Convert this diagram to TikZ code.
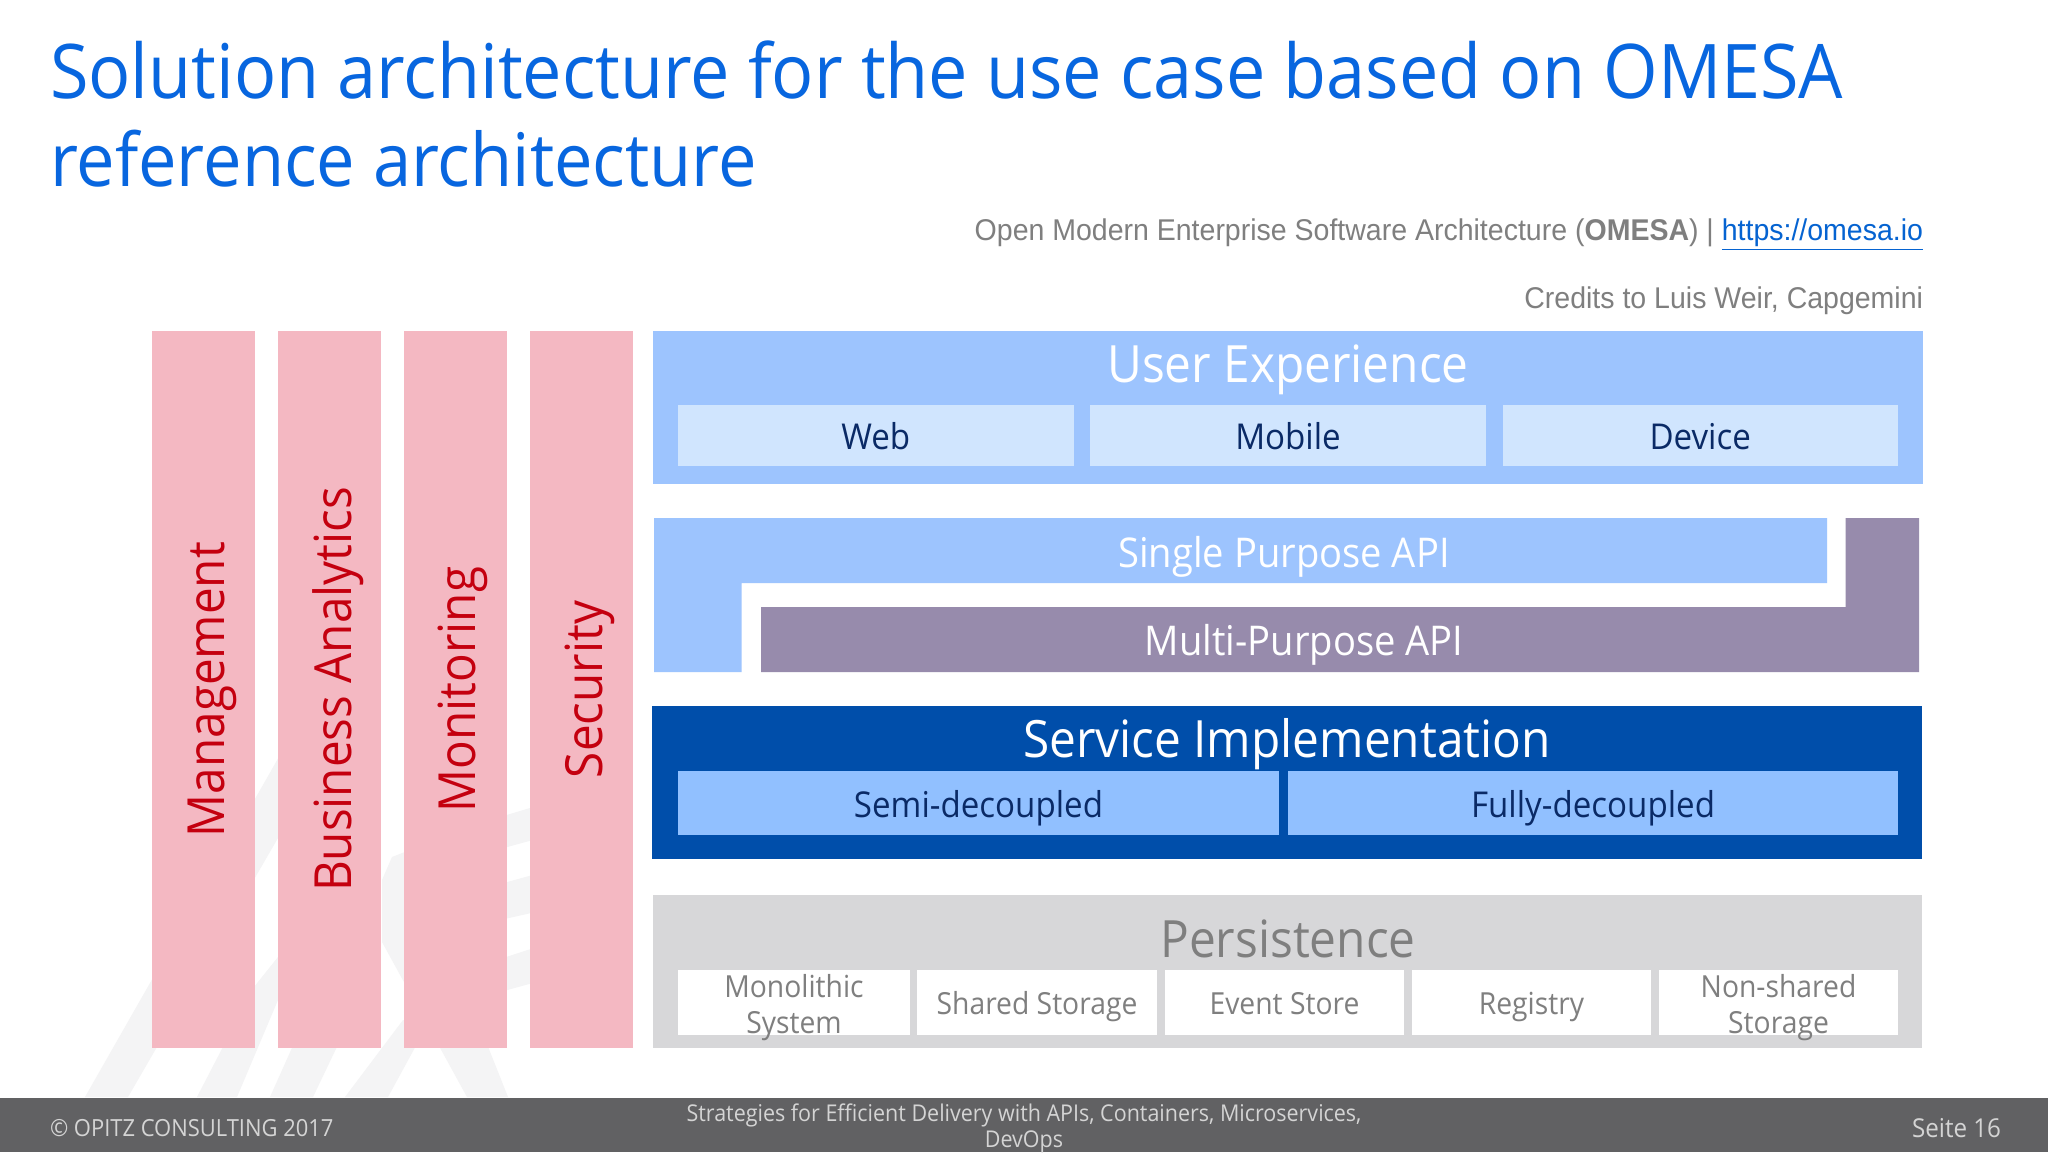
\documentclass[tikz,border=0pt]{standalone}
\usepackage{fontspec}
\setmainfont{Open Sans}
\newfontfamily\seg[FakeStretch=0.93]{Open Sans}
\newfontfamily\ari[FakeStretch=0.95]{Liberation Sans}
\definecolor{titleblue}{HTML}{0866DF}
\definecolor{linkblue}{HTML}{0563D1}
\definecolor{pinkbar}{HTML}{F4B8C2}
\definecolor{redtext}{HTML}{C4000F}
\definecolor{uxblue}{HTML}{9DC4FE}
\definecolor{uxinner}{HTML}{D0E5FE}
\definecolor{darktext}{HTML}{0A2A66}
\definecolor{purplebar}{HTML}{978BAC}
\definecolor{svcblue}{HTML}{004EAA}
\definecolor{semiblue}{HTML}{91C0FF}
\definecolor{persgray}{HTML}{D7D7D9}
\definecolor{grayt}{HTML}{7F7F7F}
\definecolor{footgray}{HTML}{616163}
\definecolor{foottext}{HTML}{D4D4D4}
\definecolor{wmark}{HTML}{F4F4F5}
\newcommand{\fsz}[1]{\fontsize{#1}{#1}\selectfont}
\tikzset{
  plain/.style={inner sep=0pt,outer sep=0pt},
  bar/.style={plain,fill=pinkbar},
  barlabel/.style={plain,rotate=90,text=redtext,font=\seg\fsz{25.6}},
  titleline/.style={plain,anchor=base west,text=titleblue,font=\seg\fsz{37.7}},
  subtitle/.style={plain,anchor=base east,text=grayt,font=\ari\fsz{15}},
  head/.style={plain,anchor=base,font=\seg\fsz{25.7}},
  mid/.style={plain,anchor=base,text=white,font=\seg\fsz{20.5}},
  lab/.style={plain,font=\seg\fsz{17.8},text height=14.4pt,text depth=0pt},
  persbox/.style={plain,fill=white},
  perstext/.style={plain,text=grayt,font=\seg\fontsize{15.2}{18.3}\selectfont,align=center},
  persone/.style={persbox,perstext,text height=11.8pt,text depth=0pt},
  foot/.style={plain,text=foottext,font=\seg\fsz{11.55}},
}
% \boxn{name}{x0}{y0}{x1}{y1}{style}{text}
\newcommand{\boxn}[7]{%
  \pgfmathsetmacro{\bw}{(#4-#2)*0.5}\pgfmathsetmacro{\bh}{(#5-#3)*0.5}%
  \node[#6,minimum width=\bw pt,minimum height=\bh pt] (#1) at ({(#2+#4)/2},{(#3+#5)/2}) {#7};}
\begin{document}
\begin{tikzpicture}[x=0.5pt,y=-0.5pt]
\useasboundingbox (0,0) rectangle (2048,1152);
\fill[white] (0,0) rectangle (2048,1152);
% watermark
\fill[wmark] (85,1097) -- (128,1097) -- (300,800) -- (300,720) -- cycle;
\fill[wmark] (197,1097) -- (254,987) -- (278,957) -- (278,1000) -- (237,1097) -- cycle;
\fill[wmark] (270,1097) -- (313,1097) -- (345,1030) -- (300,1030) -- cycle;
\fill[wmark] (345,1097) -- (403,1020) -- (430,1020) -- (388,1097) -- cycle;
\fill[wmark] (382,942) -- (382,880) -- (392,857) -- (410,850) -- (508,1097) -- (467,1097) -- cycle;
\fill[wmark] (500,817) -- (540,805) -- (540,838) -- (500,849) -- cycle;
\fill[wmark] (500,884) -- (540,873) -- (540,911) -- (500,920) -- cycle;
\fill[wmark] (500,959) -- (540,946) -- (540,981) -- (500,992) -- cycle;
% title
\node[titleline] (t1) at (50,98) {Solution architecture for the use case based on OMESA};
\node[titleline,font=\seg\fsz{36.9}] (t2) at (50,186) {reference architecture};
\node[subtitle] (s1) at (1923,240) {Open Modern Enterprise Software Architecture (\textbf{OMESA}) | \textcolor{linkblue}{\underline{https://omesa.io}}};
\node[subtitle] (s2) at (1923,308) {Credits to Luis Weir, Capgemini};
% vertical bars
\boxn{b1}{152}{331}{254.5}{1048}{bar}{}
\boxn{b2}{278}{331}{381}{1048}{bar}{}
\boxn{b3}{404}{331}{507}{1048}{bar}{}
\boxn{b4}{530}{331}{633}{1048}{bar}{}
\node[barlabel] (l1) at ([xshift=4.5pt]b1.center) {Management};
\node[barlabel] (l2) at ([xshift=4.5pt]b2.center) {Business Analytics};
\node[barlabel] (l3) at ([xshift=3.5pt]b3.center) {Monitoring};
\node[barlabel] (l4) at ([xshift=4pt]b4.center) {Security};
% user experience
\boxn{ux}{653}{331}{1923}{484}{plain,fill=uxblue}{}
\node[head,text=white] (uxt) at (1288,382) {User Experience};
\boxn{web}{678}{405}{1073.5}{466}{lab,fill=uxinner,text=darktext}{Web}
\boxn{mob}{1090}{405}{1486}{466}{lab,fill=uxinner,text=darktext}{Mobile}
\boxn{dev}{1502.5}{405}{1898}{466}{lab,fill=uxinner,text=darktext}{Device}
% APIs
\fill[uxblue] (654,518) -- (1827,518) -- (1827,583) -- (741.5,583) -- (741.5,672) -- (654,672) -- cycle;
\fill[purplebar] (761,607) -- (1845.6,607) -- (1845.6,518) -- (1919,518) -- (1919,672) -- (761,672) -- cycle;
\node[mid] (sp) at (1284,567) {Single Purpose API};
\node[mid] (mp) at (1304,655) {Multi-Purpose API};
% service
\boxn{svc}{652}{706}{1922}{859}{plain,fill=svcblue}{}
\node[head,text=white] (svct) at (1287,757) {Service Implementation};
\boxn{semi}{678}{771}{1279}{835}{lab,fill=semiblue,text=darktext}{Semi-decoupled}
\boxn{fully}{1288}{771}{1898}{835}{lab,fill=semiblue,text=darktext}{Fully-decoupled}
% persistence
\boxn{per}{653}{895}{1922}{1048}{plain,fill=persgray}{}
\node[head,text=grayt] (pert) at (1288,957) {Persistence};
\boxn{p1}{678}{970}{910}{1035}{persbox}{}
\node[perstext] (p1t) at ([yshift=-2.5pt]p1.center) {Monolithic\\System};
\boxn{p2}{917}{970}{1157}{1035}{persone}{Shared Storage}
\boxn{p3}{1165}{970}{1404}{1035}{persone}{Event Store}
\boxn{p4}{1412}{970}{1651}{1035}{persone}{Registry}
\boxn{p5}{1659}{970}{1898}{1035}{persbox}{}
\node[perstext] (p5t) at ([yshift=-2.5pt]p5.center) {Non-shared\\Storage};
% footer
\fill[footgray] (0,1098) rectangle (2048,1152);
\node[foot,anchor=base west,font=\seg\fsz{11.8}] (f1) at (50,1136) {© OPITZ CONSULTING 2017};
\node[foot,anchor=base] (f2) at (1024,1121) {Strategies for Efficient Delivery with APIs, Containers, Microservices,};
\node[foot,anchor=base] (f3) at (1024,1147) {DevOps};
\node[foot,anchor=base east,font=\seg\fsz{13}] (f4) at (2001,1137) {Seite 16};
\end{tikzpicture}
\end{document}
